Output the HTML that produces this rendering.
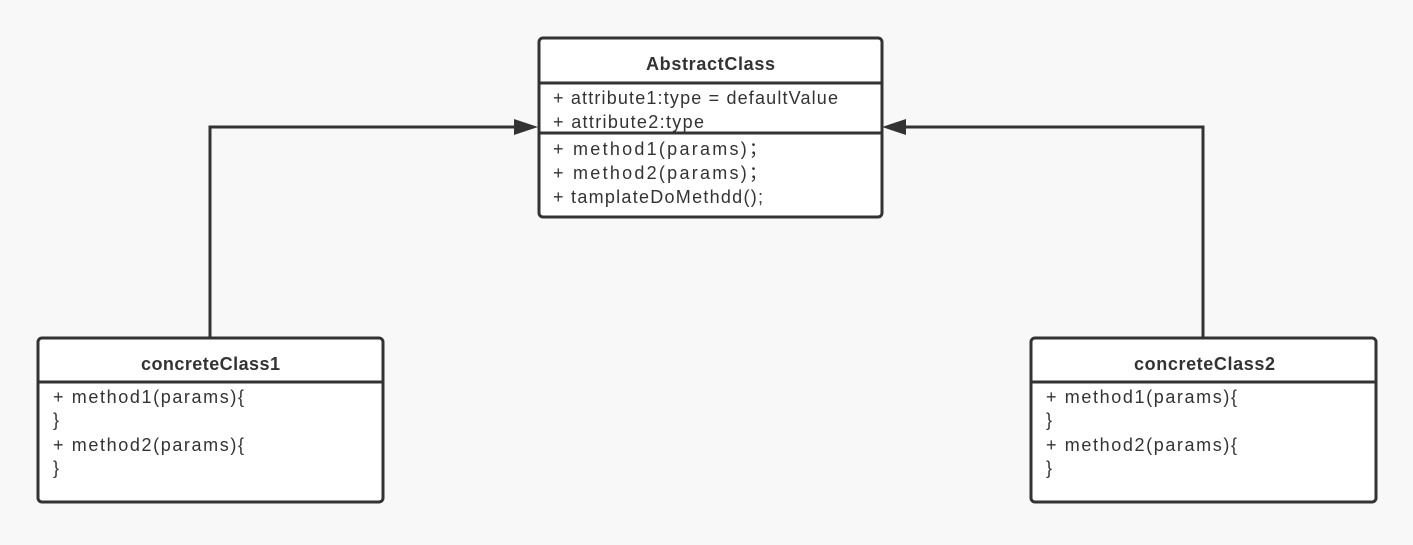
<!DOCTYPE html>
<html><head><meta charset="utf-8"><style>
html,body{margin:0;padding:0;background:#f8f8f8;}
svg text{font-family:"Liberation Sans","Noto Sans CJK SC",sans-serif;fill:#333;}
</style></head><body>
<svg width="1413" height="540" viewBox="0 0 1413 540" xmlns="http://www.w3.org/2000/svg">
<rect width="1413" height="540" fill="#f8f8f8"/>
<g stroke="#333" stroke-width="3" fill="none">
<polyline points="210,337 210,127 516,127"/>
<polyline points="1203,337 1203,127 904,127"/>
</g>
<polygon points="514,119 538,127 514,135" fill="#333"/>
<polygon points="906,119 882,127 906,135" fill="#333"/>
<g stroke="#333" stroke-width="3" fill="#fff">
<rect x="539" y="38" width="343" height="179" rx="4"/>
<rect x="38" y="338" width="345" height="164" rx="4"/>
<rect x="1031" y="338" width="345" height="164" rx="4"/>
</g>
<g stroke="#333" stroke-width="3">
<line x1="539" y1="83" x2="882" y2="83"/>
<line x1="539" y1="133" x2="882" y2="133"/>
<line x1="38" y1="382" x2="383" y2="382"/>
<line x1="1031" y1="382" x2="1376" y2="382"/>
</g>
<g font-size="18">
<text x="646" y="70" font-weight="bold" textLength="129">AbstractClass</text>
<text x="553" y="104" textLength="285">+ attribute1:type = defaultValue</text>
<text x="553" y="128" textLength="151">+ attribute2:type</text>
<text x="553" y="155" textLength="214">+ method1(params)；</text>
<text x="553" y="179" textLength="214">+ method2(params)；</text>
<text x="553" y="203" textLength="210">+ tamplateDoMethdd();</text>
<text x="141" y="370" font-weight="bold" textLength="139">concreteClass1</text>
<text x="53" y="403" textLength="191">+ method1(params){</text>
<text x="53" y="426">}</text>
<text x="53" y="451" textLength="191">+ method2(params){</text>
<text x="53" y="474">}</text>
<text x="1134" y="370" font-weight="bold" textLength="141">concreteClass2</text>
<text x="1046" y="403" textLength="191">+ method1(params){</text>
<text x="1046" y="426">}</text>
<text x="1046" y="451" textLength="191">+ method2(params){</text>
<text x="1046" y="474">}</text>
</g>
</svg>
</body></html>
